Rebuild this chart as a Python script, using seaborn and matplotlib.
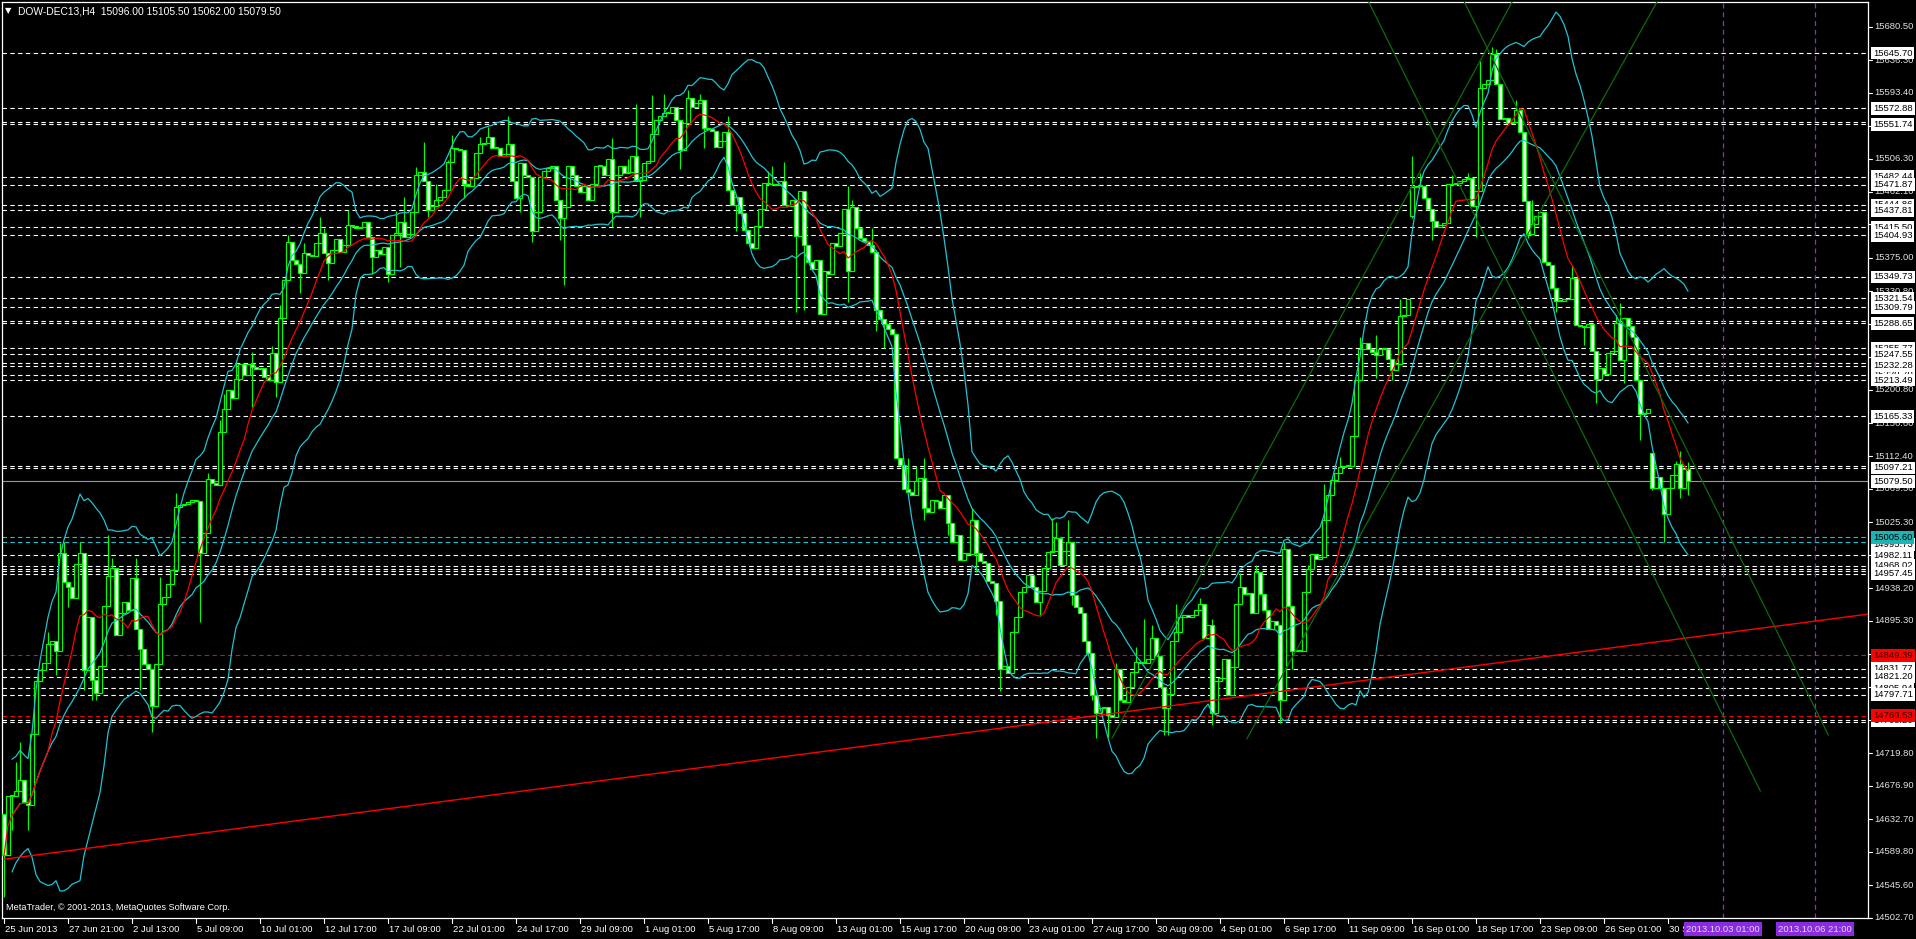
import numpy as np
import pandas as pd
import matplotlib
matplotlib.use("Agg")
import matplotlib.pyplot as plt
import matplotlib.transforms as mtrans
import seaborn as sns

# DOW-DEC13 H4 closes (25 Jun - 30 Sep 2013)
closes = [
    14585, 14664, 14664, 14670, 14685, 14655, 14652, 14745, 14815, 14830,
    14840, 14865, 14868, 14855, 14985, 14946, 14940, 14925, 14970, 14985,
    14830, 14900, 14817, 14800, 14835, 14915, 14955, 14965, 14876, 14905,
    14920, 14910, 14952, 14885, 14858, 14838, 14832, 14782, 14838, 14918,
    14926, 14944, 14962, 15045, 15048, 15050, 15052, 15055, 15054, 14985,
    15011, 15082, 15078, 15075, 15145, 15175, 15200, 15190, 15215, 15235,
    15220, 15235, 15231, 15228, 15229, 15218, 15214, 15249, 15211, 15295,
    15346, 15396, 15372, 15367, 15355, 15381, 15379, 15378, 15394, 15408,
    15381, 15368, 15385, 15400, 15383, 15392, 15418, 15417, 15414, 15416,
    15423, 15403, 15376, 15385, 15380, 15389, 15354, 15405, 15408, 15423,
    15403, 15407, 15436, 15485, 15489, 15476, 15438, 15443, 15452, 15456,
    15465, 15502, 15520, 15519, 15517, 15473, 15470, 15480, 15514, 15526,
    15527, 15535, 15520, 15520, 15510, 15512, 15526, 15476, 15454, 15500,
    15485, 15482, 15410, 15436, 15482, 15490, 15494, 15497, 15451, 15427,
    15442, 15497, 15485, 15470, 15462, 15470, 15452, 15473, 15497, 15496,
    15484, 15506, 15436, 15484, 15496, 15487, 15489, 15510, 15476, 15478,
    15500, 15503, 15539, 15557, 15563, 15566, 15566, 15574, 15557, 15518,
    15553, 15586, 15574, 15580, 15584, 15546, 15545, 15543, 15522, 15530,
    15541, 15465, 15445, 15455, 15434, 15412, 15394, 15388, 15417, 15440,
    15474, 15473, 15472, 15471, 15477, 15445, 15443, 15451, 15404, 15463,
    15392, 15370, 15360, 15372, 15301, 15358, 15353, 15395, 15390, 15408,
    15440, 15358, 15442, 15415, 15401, 15397, 15392, 15383, 15306, 15294,
    15288, 15281, 15274, 15110, 15101, 15069, 15066, 15062, 15080, 15084,
    15044, 15039, 15055, 15054, 15044, 15062, 15024, 14999, 15008, 14976,
    14985, 14983, 15028, 14985, 14974, 14972, 14948, 14945, 14921, 14832,
    14835, 14826, 14880, 14900, 14933, 14940, 14956, 14940, 14920, 14935,
    14965, 14986, 14988, 15004, 14969, 14988, 15000, 14929, 14914, 14905,
    14868, 14852, 14797, 14773, 14780, 14781, 14770, 14768, 14832, 14790,
    14788, 14808, 14828, 14841, 14839, 14839, 14845, 14872, 14848, 14808,
    14780, 14799, 14869, 14881, 14900, 14903, 14900, 14903, 14909, 14918,
    14872, 14890, 14773, 14815, 14819, 14845, 14797, 14834, 14918, 14940,
    14930, 14932, 14905, 14960, 14930, 14910, 14885, 14895, 14890, 14790,
    14990, 14915, 14855, 14857, 14855, 14933, 14963, 14983, 14977, 14980,
    15029, 15062, 15081, 15091, 15098, 15100, 15100, 15139, 15213, 15254,
    15262, 15255, 15250, 15247, 15254, 15254, 15241, 15227, 15234, 15298,
    15300, 15320, 15468, 15470, 15470, 15454, 15440, 15424, 15416, 15418,
    15421, 15472, 15472, 15474, 15476, 15479, 15480, 15443, 15463, 15599,
    15605, 15610, 15645, 15605, 15558, 15560, 15553, 15555, 15571, 15541,
    15450, 15407, 15420, 15430, 15435, 15369, 15365, 15335, 15318, 15318,
    15320, 15320, 15349, 15286, 15285, 15284, 15287, 15252, 15215, 15230,
    15221, 15249, 15252, 15289, 15240, 15295, 15285, 15270, 15214, 15169,
    15170, 15175, 15071, 15085, 15071, 15037, 15071, 15088, 15103, 15071,
    15096, 15079.5,
]
# opens differ from the previous close only on these bars (gaps)
open_gaps = {0: 14640, 352: 15430, 412: 15117}

# visible wick tips
wick_high = {0: 14640, 3: 14709, 4: 14735, 11: 14880, 14: 14998, 15: 15000, 19: 15000,
             26: 15009, 27: 14978, 33: 14978, 39: 14953, 43: 15064, 51: 15090, 54: 15160,
             55: 15195, 58: 15240, 62: 15250, 67: 15258, 69: 15313, 71: 15405, 75: 15395,
             79: 15429, 80: 15415, 86: 15438, 98: 15437, 100: 15456, 103: 15495, 105: 15528,
             108: 15472, 111: 15504, 112: 15537, 119: 15535, 121: 15548, 126: 15562,
             152: 15533, 156: 15505, 158: 15579, 162: 15590, 165: 15592, 171: 15597,
             174: 15592, 181: 15562, 191: 15490, 192: 15497, 195: 15502, 211: 15470,
             212: 15452, 217: 15415, 226: 15110, 228: 15100, 230: 15110, 242: 15044,
             249: 14916, 262: 15031, 263: 15026, 266: 15028, 278: 14839, 283: 14861,
             285: 14898, 287: 14890, 293: 14918, 299: 14925, 302: 14898, 309: 14958,
             313: 14969, 320: 15000, 322: 14870, 326: 14969, 330: 15076, 334: 15112,
             339: 15270, 343: 15273, 349: 15320, 352: 15509, 354: 15487, 362: 15484,
             366: 15487, 369: 15635, 372: 15654, 373: 15651, 378: 15584, 382: 15452,
             392: 15366, 403: 15300, 404: 15315, 418: 15106, 419: 15120, 421: 15105.5}
wick_low = {0: 14530, 2: 14619, 6: 14619, 13: 14824, 16: 14914, 20: 14804, 22: 14790,
            23: 14790, 34: 14804, 37: 14748, 49: 14894, 62: 15178, 68: 15191, 74: 15328,
            81: 15346, 92: 15354, 96: 15343, 99: 15363, 106: 15429, 115: 15456, 129: 15436,
            132: 15396, 139: 15398, 140: 15339, 152: 15416, 159: 15429, 169: 15493,
            175: 15520, 183: 15410, 198: 15304, 200: 15306, 211: 15317, 218: 15278,
            220: 15256, 230: 15028, 236: 15008, 243: 14960, 248: 14903, 249: 14803,
            259: 14901, 267: 14916, 272: 14790, 273: 14740, 276: 14742, 290: 14744,
            291: 14744, 302: 14757, 319: 14760, 322: 14832, 343: 15216, 347: 15213,
            352: 15427, 357: 15399, 368: 15402, 369: 15481, 381: 15401, 388: 15303,
            395: 15260, 398: 15183, 405: 15209, 409: 15134, 412: 15068, 415: 14999,
            419: 15057, 421: 15062}

# horizontal objects
white_levels = [15645.70, 15572.88, 15555.20, 15551.74, 15482.44, 15471.87, 15444.86,
                15437.81, 15415.50, 15404.93, 15349.73, 15321.54, 15309.79, 15291.50,
                15288.65, 15255.77, 15247.55, 15235.40, 15232.28, 15220.70, 15213.49,
                15165.33, 15099.90, 15097.21, 14982.11, 14968.02, 14963.40, 14960.60,
                14957.45, 14831.77, 14821.20, 14805.94, 14797.71, 14764.20, 14761.00]
cyan_levels = [15005.60, 14998.90]
red_levels = [14849.39, 14769.53]
last_price = 15079.50

white_tags = [15645.70, 15572.88, 15551.74, 15482.44, 15471.87, 15437.81, 15415.50,
              15404.93, 15349.73, 15321.54, 15309.79, 15288.65, 15247.55, 15232.28,
              15213.49, 15165.33, 15097.21, 14982.11, 14968.02, 14957.45, 14831.77,
              14821.20, 14797.71]
covered_tags = [15444.86, 15255.77, 15220.70, 14995.73, 14805.94, 14763.20]

price_ticks = [15680.50, 15636.30, 15593.40, 15549.20, 15506.30, 15462.10, 15419.20,
               15375.00, 15330.80, 15287.90, 15243.70, 15200.80, 15156.60, 15112.40,
               15069.50, 15025.30, 14982.40, 14938.20, 14895.30, 14851.10, 14808.20,
               14764.00, 14719.80, 14676.90, 14632.70, 14589.80, 14545.60, 14502.70]

time_labels = ["25 Jun 2013", "27 Jun 21:00", "2 Jul 13:00", "5 Jul 09:00", "10 Jul 01:00",
               "12 Jul 17:00", "17 Jul 09:00", "22 Jul 01:00", "24 Jul 17:00", "29 Jul 09:00",
               "1 Aug 01:00", "5 Aug 17:00", "8 Aug 09:00", "13 Aug 01:00", "15 Aug 17:00",
               "20 Aug 09:00", "23 Aug 01:00", "27 Aug 17:00", "30 Aug 09:00", "4 Sep 01:00",
               "6 Sep 17:00", "11 Sep 09:00", "16 Sep 01:00", "18 Sep 17:00", "23 Sep 09:00",
               "26 Sep 01:00", "30 Sep 01:00"]
bars_per_label = 16

future_marks = [429.75, 452.75]
future_texts = ["2013.10.03 01:00", "2013.10.06 21:00"]

# trendlines as (bar, price) anchor pairs
red_trend = [(0, 14580), (466, 14904)]
green_trends = [[(277, 14740), (377, 15713)],
                [(310.7, 14739), (413.2, 15713)],
                [(341.2, 15713), (439.1, 14670)],
                [(365.1, 15713), (456.1, 14744)]]

LIME = "#00ff00"
CYAN = "#1fc3d3"

sns.set_theme(style="dark", rc={"axes.facecolor": "black", "figure.facecolor": "black"})
plt.rcParams["font.family"] = ["Liberation Sans", "DejaVu Sans"]

W, H = 1916, 939
fig = plt.figure(figsize=(W / 100, H / 100), dpi=100, facecolor="black")
ax = fig.add_axes([2 / W, 21 / H, 1866 / W, 916 / H])
ax.set_facecolor("black")

# build OHLC
c = np.array(closes, dtype=float)
idx = np.arange(len(c))
o = np.r_[c[0], c[:-1]]
for k, v in open_gaps.items():
    o[k] = v
hi = np.maximum(o, c)
lo = np.minimum(o, c)
for k, v in wick_high.items():
    hi[k] = max(hi[k], v)
for k, v in wick_low.items():
    lo[k] = min(lo[k], v)

# indicators: bollinger(20, 2) and a 12 bar average
s = pd.Series(c)
mid = s.rolling(20, min_periods=3).mean()
sd = s.rolling(20, min_periods=3).std(ddof=0)
ind = pd.DataFrame({"bar": idx, "mid": mid, "up": mid + 2 * sd, "dn": mid - 2 * sd,
                    "ma": s.rolling(12, min_periods=1).mean()})

# levels
for p in white_levels:
    ax.axhline(p, color="white", lw=0.8, ls=(0, (4, 3)), zorder=2)
for p in cyan_levels:
    ax.axhline(p, color=CYAN, lw=0.8, ls=(0, (4, 3)), zorder=2)
for p in red_levels:
    ax.axhline(p, color="#ff0000", lw=0.8, ls=(0, (4, 3)), zorder=2)
ax.axhline(last_price, color="#8a9aa8", lw=0.8, zorder=2)
for xm in future_marks:
    ax.axvline(xm, color="#8a2be2", lw=0.9, ls=(0, (4, 3)), zorder=2)

# candles
ax.vlines(idx, lo, hi, color=LIME, lw=0.85, zorder=3)
body_h = np.maximum(np.abs(c - o), 1.2)
fills = np.where(c < o, "white", "black")
ax.bar(idx, body_h, bottom=np.minimum(o, c), width=0.76, color=fills,
       edgecolor=LIME, linewidth=0.85, zorder=4)

# bollinger + ma
for col in ["up", "mid", "dn"]:
    sns.lineplot(data=ind, x="bar", y=col, ax=ax, color=CYAN, lw=0.9, zorder=5)
sns.lineplot(data=ind, x="bar", y="ma", ax=ax, color="#ff0000", lw=0.9, zorder=5)

# trendlines
(x0, y0), (x1, y1) = red_trend
ax.plot([x0, x1], [y0, y1], color="#ff0000", lw=1.0, zorder=5)
for (a0, b0), (a1, b1) in green_trends:
    ax.plot([a0, a1], [b0, b1], color="#0b6b0b", lw=0.9, zorder=5)

ax.set_xlim(-0.5, 466)
ax.set_ylim(14502.3, 15713.2)
ax.set_xticks([])
ax.set_yticks([])
ax.set_xlabel("")
ax.set_ylabel("")
for sp in ax.spines.values():
    sp.set_color("white")
    sp.set_linewidth(0.9)

fx = lambda px: px / W
fy = lambda py: 1 - py / H
tr_r = mtrans.blended_transform_factory(fig.transFigure, ax.transData)
tr_b = mtrans.blended_transform_factory(ax.transData, fig.transFigure)
FS = 6.8

# right price scale
for p in price_ticks:
    ax.plot([fx(1868), fx(1872)], [p, p], transform=tr_r, color="white", lw=0.8, clip_on=False)
    ax.text(fx(1874), p, f"{p:.2f}", transform=tr_r, color="#e0e0e0", fontsize=FS,
            va="center", ha="left", zorder=6)


def tag(p, fc, tc, z):
    ax.text(fx(1873), p, f"{p:.2f}", transform=tr_r, color=tc, fontsize=FS, va="center",
            ha="left", zorder=z, clip_on=False,
            bbox=dict(boxstyle="square,pad=0.2", fc=fc, ec="none"))


for p in covered_tags:
    tag(p, "white", "black", 7)
for p in white_tags:
    tag(p, "white", "black", 8)
tag(last_price, "white", "black", 8)
tag(cyan_levels[0], "#1bb5b5", "black", 8)
for p in red_levels:
    tag(p, "#ff0000", "#300000", 8)

# time scale
for k, lab in enumerate(time_labels):
    b = k * bars_per_label
    ax.plot([b, b], [fy(918), fy(923)], transform=tr_b, color="white", lw=0.8, clip_on=False)
    ax.text(b + 0.3, fy(929), lab, transform=tr_b, color="white", fontsize=FS,
            va="center", ha="left", zorder=6)
for xm, lab in zip(future_marks, future_texts):
    ax.text(xm, fy(929), lab, transform=tr_b, color="#dcdcff", fontsize=FS, va="center",
            ha="center", zorder=8, clip_on=False,
            bbox=dict(boxstyle="square,pad=0.25", fc="#8a2be2", ec="none"))

# header and watermark
fig.text(fx(5), fy(11), "\u25bc", color="white", fontsize=6, va="center", ha="left",
         family=["DejaVu Sans"])
fig.text(fx(18), fy(11), "DOW-DEC13,H4  15096.00 15105.50 15062.00 15079.50",
         color="white", fontsize=7.4, va="center", ha="left")
fig.text(fx(6), fy(908), "MetaTrader, \u00a9 2001-2013, MetaQuotes Software Corp.",
         color="white", fontsize=6.6, va="center", ha="left")

fig.savefig("out.png", dpi=100, facecolor="black")
